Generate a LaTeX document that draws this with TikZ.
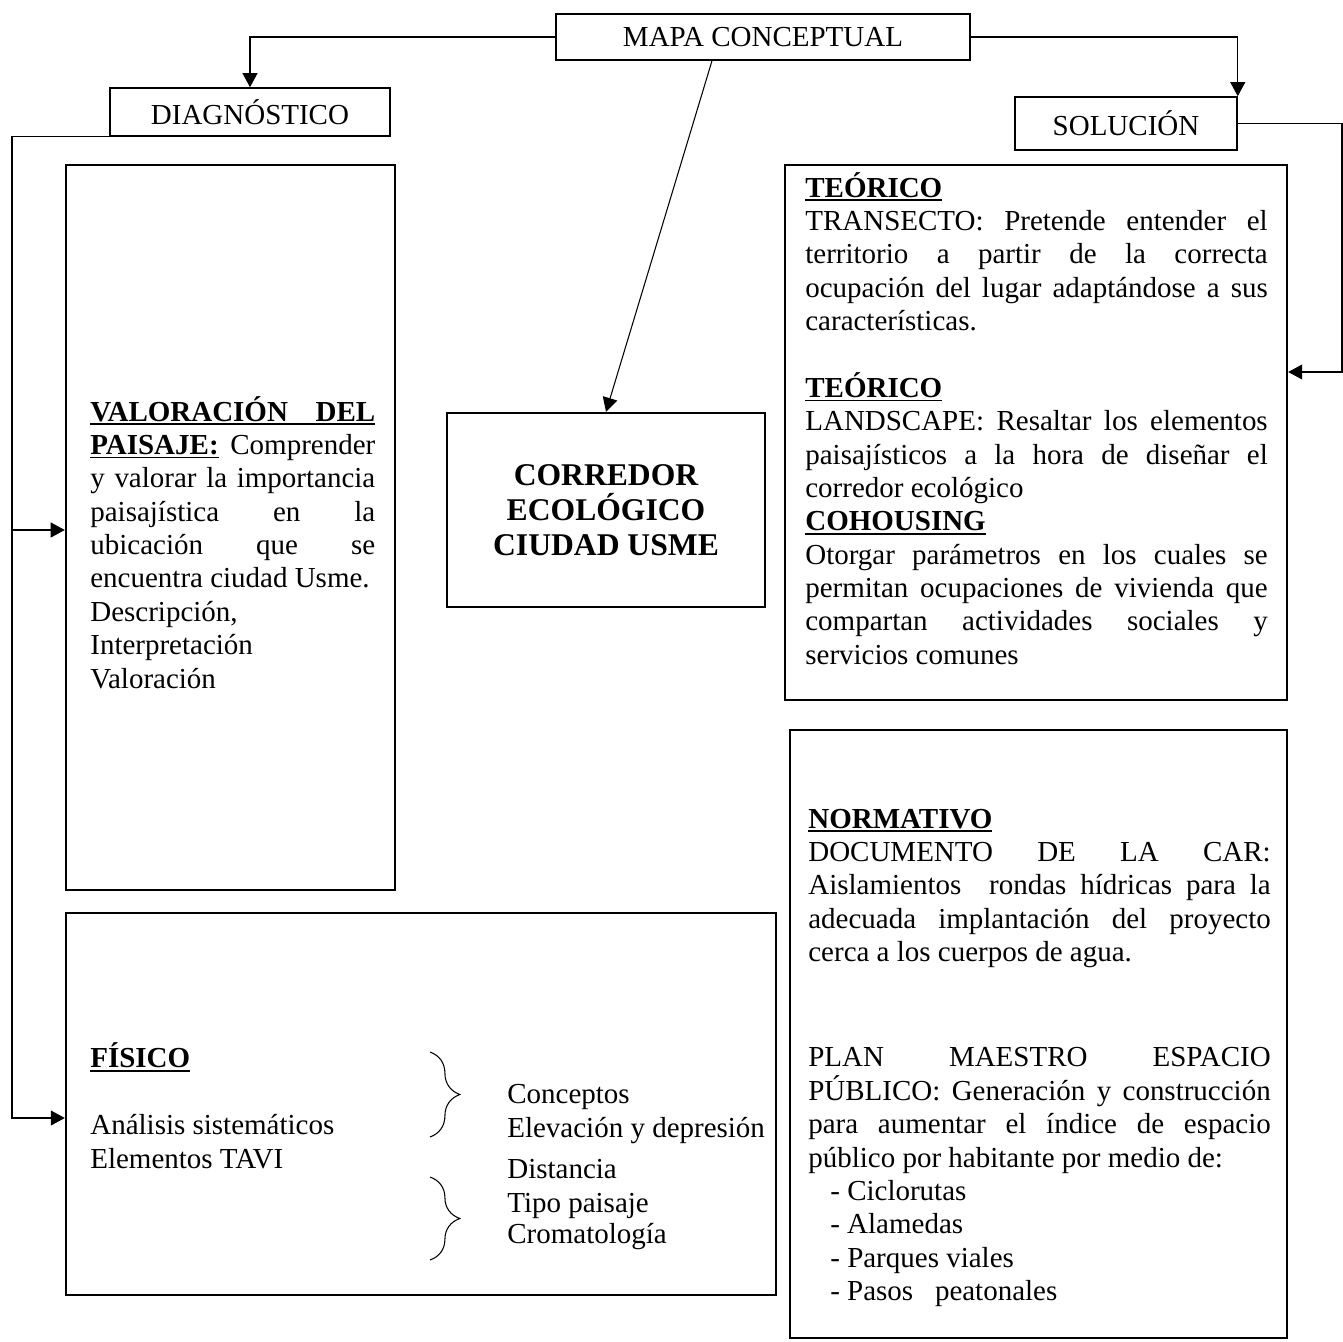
\documentclass[tikz,border=0pt]{standalone}
\usepackage{fontspec}
\setmainfont{Liberation Serif}
\usetikzlibrary{arrows.meta,calc,decorations.pathreplacing}
\newcommand{\bodyfont}{\fontsize{16.5}{19}\selectfont}
\newcommand{\loosepar}{\tolerance=10000 \hbadness=10000 \hyphenpenalty=10000 }
\newcommand{\hd}[1]{\setbox0\hbox{\bfseries #1}\rlap{\rule[-2.2pt]{\wd0}{0.8pt}}\box0\relax}

\begin{document}
\begin{tikzpicture}[x=0.02cm,y=-0.02cm,font=\bodyfont]
	\tikzset{box/.style={draw,line width=0.9pt,inner sep=0pt},
		bigbox/.style={draw,line width=1.4pt,inner sep=0pt},
		txt/.style={anchor=base west,inner sep=0pt,align=justify,execute at begin node=\loosepar},
		lbl/.style={anchor=base west,inner sep=0pt},
		arr/.style={-{Triangle[length=8pt,width=8.5pt]},line width=0.6pt},
		brc/.style={decorate,decoration={brace,amplitude=17pt},line width=0.6pt}}
	\useasboundingbox (0,0) rectangle (1343,1342);

	\node[box,minimum width=8.28cm,minimum height=0.92cm] (mapa) at (763,37) {MAPA CONCEPTUAL};
	\node[box,minimum width=5.6cm,minimum height=0.96cm] (diag) at (250,112) {DIAGNÓSTICO};
	\node[box,minimum width=4.44cm,minimum height=1.06cm] (sol) at (1126,123.5) {SOLUCIÓN};

	\node[bigbox,minimum width=6.58cm,minimum height=14.5cm] (val) at (230.5,527.5) {};
	\node[bigbox,minimum width=6.36cm,minimum height=3.88cm,align=center,
		font=\fontsize{18}{20}\selectfont\bfseries] (cor) at (606,510)
		{CORREDOR\\ECOLÓGICO\\CIUDAD USME};
	\node[bigbox,minimum width=10.04cm,minimum height=10.7cm] (teo) at (1036,432.5) {};
	\node[bigbox,minimum width=9.94cm,minimum height=12.16cm] (nor) at (1038.5,1034) {};
	\node[bigbox,minimum width=14.2cm,minimum height=7.64cm] (fis) at (421,1104) {};

	\node[txt,text width=5.7cm] (valtxt) at (90,421) {%
		\hd{\makebox[5.7cm][s]{VALORACIÓN DEL}}\\
		\hd{PAISAJE:} Comprender\linebreak
		y valorar la importancia\linebreak
		paisajística en la\linebreak
		ubicación que se\linebreak
		encuentra ciudad Usme.\\
		Descripción,\\
		Interpretación\\
		Valoración};

	\node[txt,text width=9.25cm] (teotxt) at (805,197) {%
		\hd{TEÓRICO}\\
		TRANSECTO: Pretende entender el\linebreak
		territorio a partir de la correcta\linebreak
		ocupación del lugar adaptándose a sus\linebreak
		características.\\[19pt]
		\hd{TEÓRICO}\\
		LANDSCAPE: Resaltar los elementos\linebreak
		paisajísticos a la hora de diseñar el\linebreak
		corredor ecológico\\
		\hd{COHOUSING}\\
		Otorgar parámetros en los cuales se\linebreak
		permitan ocupaciones de vivienda que\linebreak
		compartan actividades sociales y\linebreak
		servicios comunes};

	\node[txt,text width=9.25cm] (nortxt) at (808,828) {%
		\hd{NORMATIVO}\\
		DOCUMENTO DE LA CAR:\linebreak
		Aislamientos\ \ rondas hídricas para la\linebreak
		adecuada implantación del proyecto\linebreak
		cerca a los cuerpos de agua.\\[41pt]
		PLAN MAESTRO ESPACIO\linebreak
		PÚBLICO: Generación y construcción\linebreak
		para aumentar el índice de espacio\linebreak
		público por habitante por medio de:\\
		\hspace*{0.44cm}- Ciclorutas\\
		\hspace*{0.44cm}- Alamedas\\
		\hspace*{0.44cm}- Parques viales\\
		\hspace*{0.44cm}- Pasos\ \ \ peatonales};

	\node[lbl,align=left] (fistxt) at (90,1168) {%
		\hd{FÍSICO}\\[19pt]
		Análisis sistemáticos\\
		Elementos TAVI};
	\node[lbl] (con) at (507,1103) {Conceptos};
	\node[lbl] (ele) at (507,1137) {Elevación y depresión};
	\node[lbl] (dis) at (507,1178) {Distancia};
	\node[lbl] (tip) at (507,1212) {Tipo paisaje};
	\node[lbl] (cro) at (507,1243) {Cromatología};
	\draw[brc] (430,1052) -- (430,1137);
	\draw[brc] (430,1177) -- (430,1260);

	\coordinate (sr) at (1342,372);
	\coordinate (lv) at (12,530);
	\coordinate (lf) at (12,1118);
	\draw[arr] (mapa.west) -| (diag.north);
	\draw[arr] (mapa.east) -| (sol.north east);
	\draw[arr] (sol.east) -| (sr) -- (teo.east |- sr);
	\draw[arr] (diag.south west) -| (lf) -- (fis.west |- lf);
	\draw[arr] (lv) -- (val.west |- lv);
	\draw[arr] ($(mapa.south)+(-51,0)$) -- (cor.north);
\end{tikzpicture}
\end{document}
